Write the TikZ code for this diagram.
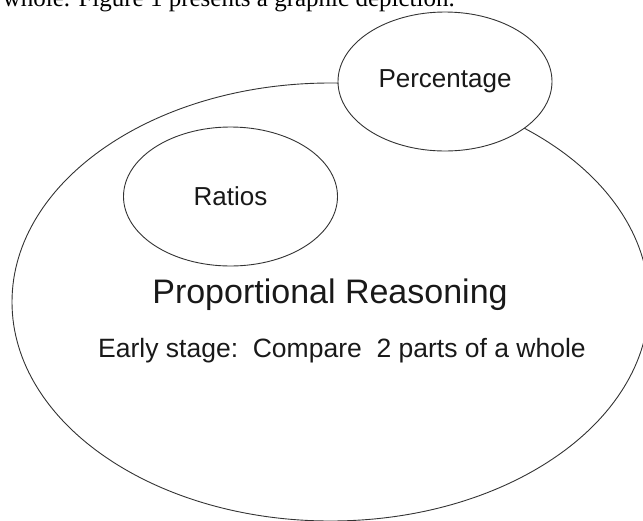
\documentclass[tikz,border=0pt]{standalone}
\usepackage{fontspec}
\setmainfont{Liberation Sans}
\newfontfamily\introfont{Liberation Serif}
\usetikzlibrary{shapes.geometric,positioning}
\tikzset{
  outline/.style={ellipse, draw=black!80, line width=0.9pt, inner sep=0pt},
  bubble/.style={outline, fill=white,
    minimum width=214pt, minimum height=139pt,
    font=\fontsize{26}{30}\selectfont, text=black!90},
}
\begin{document}
\begin{tikzpicture}[x=1pt,y=-1pt]
	%\draw[color=gray,step=10pt, help lines,opacity=0.3] (0,0) grid (643,520); %help grids
	\useasboundingbox (0,0) rectangle (643,520);
	\clip (0,0) rectangle (643,520);
	\node[anchor=base east, inner sep=0pt, font=\introfont\fontsize{25}{30}\selectfont] (intro) at (455,6) {whole. Figure 1 presents a graphic depiction.};
	% big outline, runs past the right and lower edges
	\node[outline, minimum width=637pt, minimum height=438pt] (whole) at (330.5,302) {};
	\node[bubble] (ratios) at (230.5,196.5) {Ratios};
	\node[bubble] (percentage) at (445,81.5) {Percentage};
	\node[anchor=base, text=black!90, font=\fontsize{34}{40}\selectfont] (reasoning) at (330,303) {Proportional Reasoning};
	\node[anchor=base, text=black!90, font=\fontsize{26.5}{30}\selectfont] (stage) at (342,357) {Early stage:\ \ Compare\ \ 2 parts of a whole};
\end{tikzpicture}
\end{document}
